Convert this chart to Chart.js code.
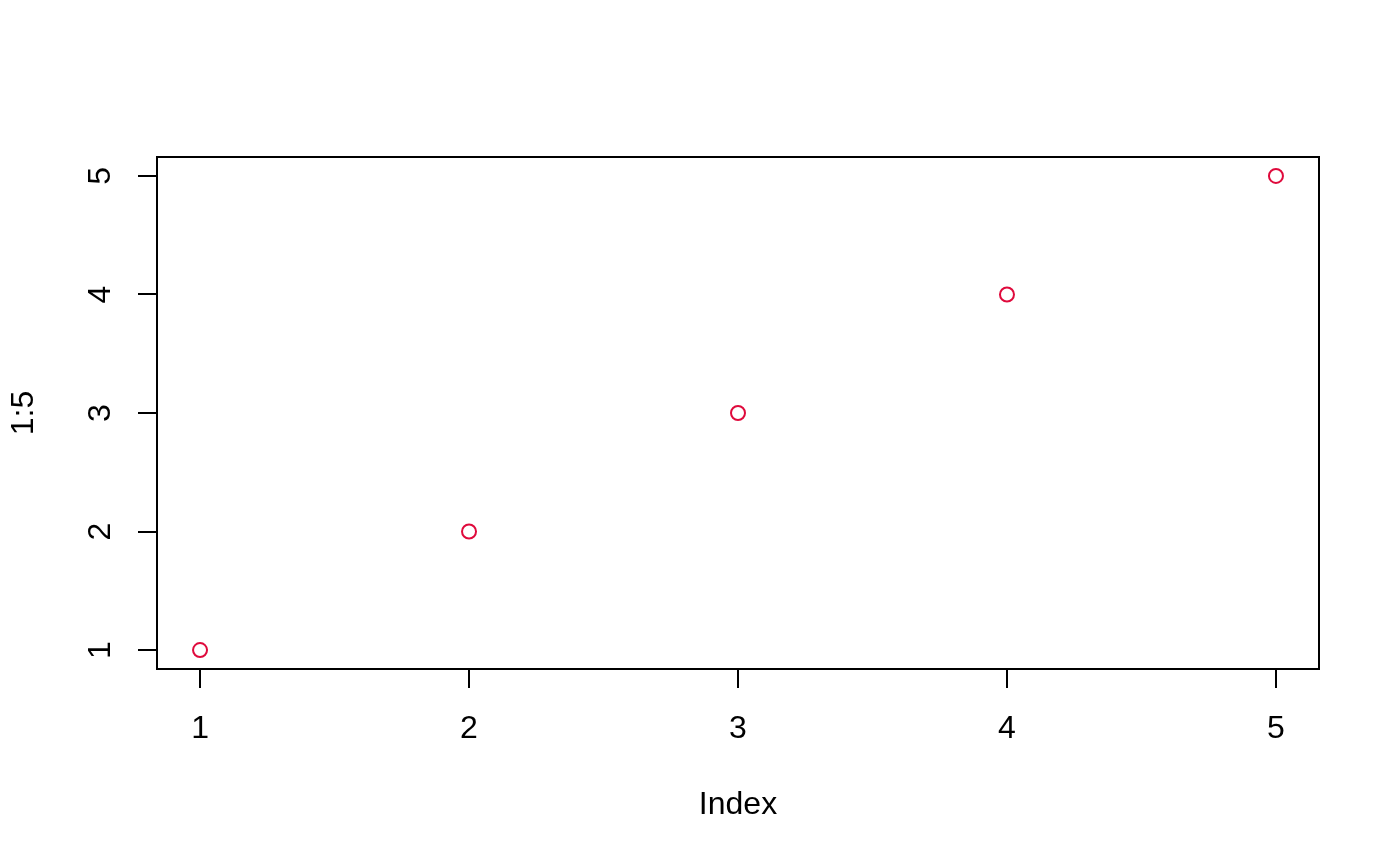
<!DOCTYPE html>
<html>
<head>
<meta charset="utf-8">
<script src="https://cdn.jsdelivr.net/npm/chart.js@4"></script>
<style>
  html, body { margin: 0; padding: 0; background: #fff; }
  #wrap { width: 1400px; height: 866px; position: relative; }
</style>
</head>
<body>
<div id="wrap"><canvas id="plot"></canvas></div>
<script>
// data: plot(1:5, col = 2)
const indexValues = [1, 2, 3, 4, 5];
const seriesValues = [1, 2, 3, 4, 5];
const xTickValues = [1, 2, 3, 4, 5];
const yTickValues = [1, 2, 3, 4, 5];
const xTitle = 'Index';
const yTitle = '1:5';

const FONT = '32px "Liberation Sans", Arial, Helvetica, sans-serif';

// draws box, tick labels and axis titles the R way
const rAxes = {
  id: 'rAxes',
  afterDraw(chart) {
    const { ctx, chartArea: a, scales } = chart;
    ctx.save();
    ctx.strokeStyle = '#000';
    ctx.lineWidth = 2;
    ctx.strokeRect(a.left, a.top, a.right - a.left, a.bottom - a.top);

    ctx.fillStyle = '#000';
    ctx.font = FONT;
    ctx.textAlign = 'center';
    ctx.textBaseline = 'middle';

    scales.x.ticks.forEach(t => {
      ctx.fillText(String(t.value), scales.x.getPixelForValue(t.value), a.bottom + 60);
    });
    ctx.fillText(xTitle, (a.left + a.right) / 2, a.bottom + 136);

    scales.y.ticks.forEach(t => {
      ctx.save();
      ctx.translate(a.left - 56, scales.y.getPixelForValue(t.value));
      ctx.rotate(-Math.PI / 2);
      ctx.fillText(String(t.value), 0, 0);
      ctx.restore();
    });
    ctx.save();
    ctx.translate(a.left - 133, (a.top + a.bottom) / 2);
    ctx.rotate(-Math.PI / 2);
    ctx.fillText(yTitle, 0, 0);
    ctx.restore();

    ctx.restore();
  }
};

const axisOpts = (min, max, ticks) => ({
  type: 'linear',
  min: min,
  max: max,
  afterBuildTicks: s => { s.ticks = ticks.map(v => ({ value: v })); },
  grid: {
    display: true,
    drawOnChartArea: false,
    drawTicks: true,
    tickLength: 19,
    tickColor: '#000',
    lineWidth: 2
  },
  border: { display: false },
  ticks: { display: false }
});

new Chart(document.getElementById('plot').getContext('2d'), {
  type: 'scatter',
  data: {
    datasets: [{
      data: indexValues.map((x, i) => ({ x: x, y: seriesValues[i] })),
      pointStyle: 'circle',
      pointRadius: 7,
      pointBorderWidth: 2,
      borderColor: '#DF0A3C',
      backgroundColor: 'rgba(0,0,0,0)'
    }]
  },
  options: {
    responsive: true,
    maintainAspectRatio: false,
    animation: false,
    layout: { padding: { left: 138, right: 81, top: 157, bottom: 178 } },
    plugins: {
      legend: { display: false },
      tooltip: { enabled: false }
    },
    scales: {
      x: axisOpts(0.84, 5.16, xTickValues),
      y: axisOpts(0.84, 5.16, yTickValues)
    }
  },
  plugins: [rAxes]
});
</script>
</body>
</html>
